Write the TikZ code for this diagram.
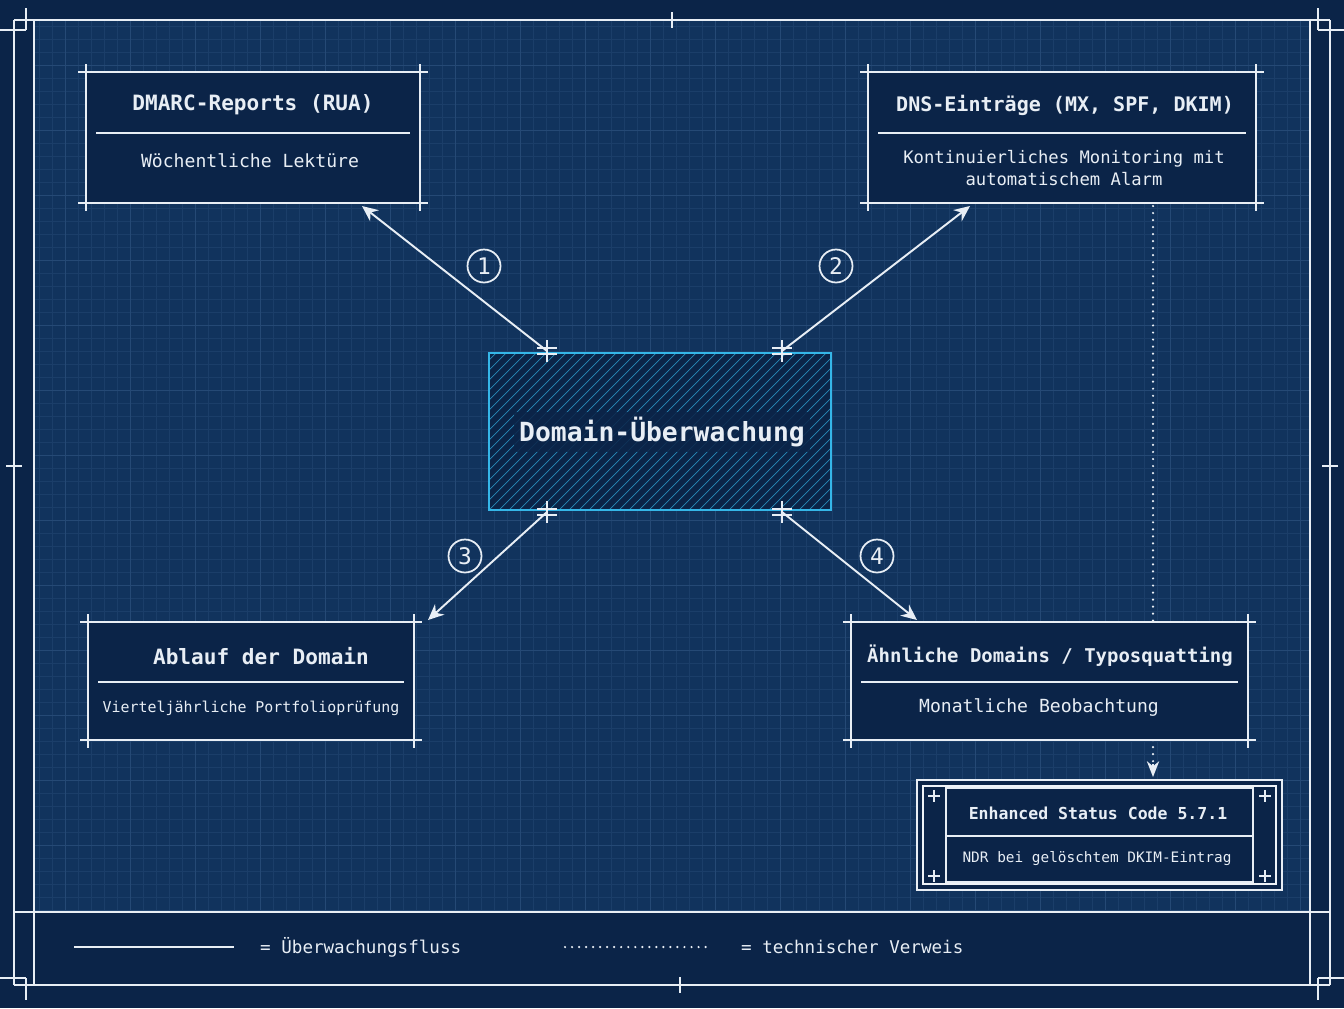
\documentclass[tikz,border=0pt]{standalone}
\usepackage{fontspec}
\setmainfont{DejaVu Sans Mono}
\usetikzlibrary{arrows.meta,calc,positioning}

\definecolor{navy}{HTML}{0B2448}
\definecolor{navylight}{HTML}{17406F}
\definecolor{gridc}{HTML}{3A5F8E}
\definecolor{cyanb}{HTML}{35B6E8}
\definecolor{paper}{HTML}{E8EEF5}

\tikzset{
  frame/.style={draw=paper, line width=0.8pt},
  box/.style={draw=paper, line width=0.9pt, fill=navy},
  title/.style={text=paper, font=\fontsize{12}{14}\selectfont\bfseries},
  sub/.style={text=paper, font=\fontsize{10.3}{13}\selectfont, align=center},
  flow/.style={draw=paper, line width=1.1pt, -{Stealth[length=9pt,width=8pt]}},
  ref/.style={draw=paper, line width=1.4pt, line cap=round, dash pattern=on 0pt off 4pt},
  num/.style={circle, draw=paper, line width=1pt, minimum size=33*0.02cm, inner sep=0pt, text=paper, font=\fontsize{13}{13}\selectfont},
}

% box with extension lines at the corners
\newcommand{\bpbox}[4]{%
  \fill[navy] (#1,#2) rectangle (#3,#4);
  \draw[frame] (#1-8,#2) -- (#3+8,#2) (#1-8,#4) -- (#3+8,#4)
               (#1,#2-8) -- (#1,#4+8) (#3,#2-8) -- (#3,#4+8);
}
% crosshair at a connection point
\newcommand{\xmark}[1]{%
  \draw[paper, line width=0.7pt] ($(#1)+(-10,-3)$) -- ++(20,0) ($(#1)+(-10,3)$) -- ++(20,0)
     ($(#1)+(0,-11)$) -- ++(0,22);
}

\begin{document}
\begin{tikzpicture}[x=0.02cm, y=-0.02cm]
\useasboundingbox (0,0) rectangle (1344,1008);
% background and grid
\fill[navy] (0,0) rectangle (1344,1008);
\fill[navylight, opacity=0.55] (34,20) rectangle (1310,912);
\draw[gridc, opacity=0.25, line width=0.2pt, step=13*0.02cm] (34,20) grid (1310,912);
\draw[gridc, opacity=0.35, line width=0.4pt, step=65*0.02cm] (34,20) grid (1310,912);

% drawing frame
\draw[frame] (14,20) -- (1330,20) (14,985) -- (1330,985)
             (14,20) -- (14,985) (1330,20) -- (1330,985)
             (34,20) -- (34,985) (1310,20) -- (1310,985)
             (14,912) -- (1330,912);
\draw[frame] (0,30) -- (26,30) (26,8) -- (26,30) (1318,30) -- (1344,30) (1318,8) -- (1318,30)
             (0,978) -- (26,978) (26,978) -- (26,1000) (1318,978) -- (1344,978) (1318,978) -- (1318,1000);
\draw[frame] (672,12) -- (672,28) (680,977) -- (680,993)
             (6,466) -- (22,466) (1322,466) -- (1338,466);

% technical reference (behind the boxes)
\coordinate (r1) at (1153,206);
\coordinate (r2) at (1153,777);
\draw[ref] (r1) -- (1153,762);
\draw[paper, -{Stealth[length=9pt,width=7pt]}, line width=1pt] (1153,764) -- (r2);

% boxes
\bpbox{86}{72}{420}{203}
\node[title] (rua) at (253,105) {DMARC-Reports (RUA)};
\draw[paper, line width=0.6pt] (96,133) -- (410,133);
\node[sub] (ruasub) at (250,161) {Wöchentliche Lektüre};

\bpbox{868}{72}{1256}{203}
\node[title, font=\fontsize{11.4}{14}\selectfont\bfseries] (dns) at (1065,105) {DNS-Einträge (MX, SPF, DKIM)};
\draw[paper, line width=0.6pt] (878,133) -- (1246,133);
\node[sub, font=\fontsize{9.8}{12.5}\selectfont] (dnssub) at (1064,168) {Kontinuierliches Monitoring mit\\automatischem Alarm};

\bpbox{88}{622}{414}{740}
\node[title] (exp) at (261,656) {Ablauf der Domain};
\draw[paper, line width=0.6pt] (98,682) -- (404,682);
\node[sub, font=\fontsize{8.5}{11}\selectfont] (expsub) at (251,708) {Vierteljährliche Portfolioprüfung};

\bpbox{851}{622}{1248}{740}
\node[title, font=\fontsize{10.8}{14}\selectfont\bfseries] (typo) at (1050,656) {Ähnliche Domains / Typosquatting};
\draw[paper, line width=0.6pt] (861,682) -- (1238,682);
\node[sub] (typosub) at (1039,708) {Monatliche Beobachtung};

% center
\fill[navy] (489,353) rectangle (831,510);
\begin{scope}
  \clip (489,353) rectangle (831,510);
  \foreach \i in {0,10,...,520} {
    \draw[cyanb, opacity=0.7, line width=0.4pt] (489+\i-170,510) -- ++(170,-170);
  }
\end{scope}
\draw[cyanb, line width=1.1pt] (489,353) rectangle (831,510);
\node[fill=navy, fill opacity=0.85, text opacity=1, text=paper, inner sep=3pt,
      font=\fontsize{15}{18}\selectfont\bfseries] (dom) at (662,432) {Domain-Überwachung};

\coordinate (c1) at (547,351);
\coordinate (c2) at (782,351);
\coordinate (c3) at (547,512);
\coordinate (c4) at (782,512);
\coordinate (t1) at (362,206);
\coordinate (t2) at (970,206);
\coordinate (t3) at (428,620);
\coordinate (t4) at (917,620);

\draw[flow] (c1) -- (t1);
\draw[flow] (c2) -- (t2);
\draw[flow] (c3) -- (t3);
\draw[flow] (c4) -- (t4);
\foreach \c in {c1,c2,c3,c4} { \xmark{\c} }

\node[num] (n1) at (484,266) {1};
\node[num] (n2) at (836,266) {2};
\node[num] (n3) at (465,556) {3};
\node[num] (n4) at (877,556) {4};

\fill[navy] (917,780) rectangle (1282,890);
\draw[paper, line width=0.9pt] (917,780) rectangle (1282,890);
\draw[paper!70, line width=0.6pt] (923,786) rectangle (1276,884);
\draw[paper, line width=0.6pt] (946,788) rectangle (1253,882) (946,836) -- (1253,836);
\foreach \x/\y in {934/796, 1265/796, 934/876, 1265/876} {
  \draw[paper, line width=0.6pt] (\x-6,\y) -- (\x+6,\y) (\x,\y-6) -- (\x,\y+6);
}
\node[title, font=\fontsize{9.4}{12}\selectfont\bfseries] (esc) at (1098,813) {Enhanced Status Code 5.7.1};
\node[sub, font=\fontsize{8.2}{10}\selectfont] (escsub) at (1097,859) {NDR bei gelöschtem DKIM-Eintrag};

% legend
\coordinate (l1) at (74,947);
\coordinate (l2) at (234,947);
\coordinate (l3) at (565,947);
\coordinate (l4) at (709,947);
\draw[paper, line width=1pt] (l1) -- (l2);
\node[sub, anchor=west, font=\fontsize{10}{12}\selectfont] (leg1) at (254,947) {= Überwachungsfluss};
\draw[ref] (l3) -- (l4);
\node[sub, anchor=west, font=\fontsize{10}{12}\selectfont] (leg2) at (735,947) {= technischer Verweis};
\end{tikzpicture}
\end{document}
